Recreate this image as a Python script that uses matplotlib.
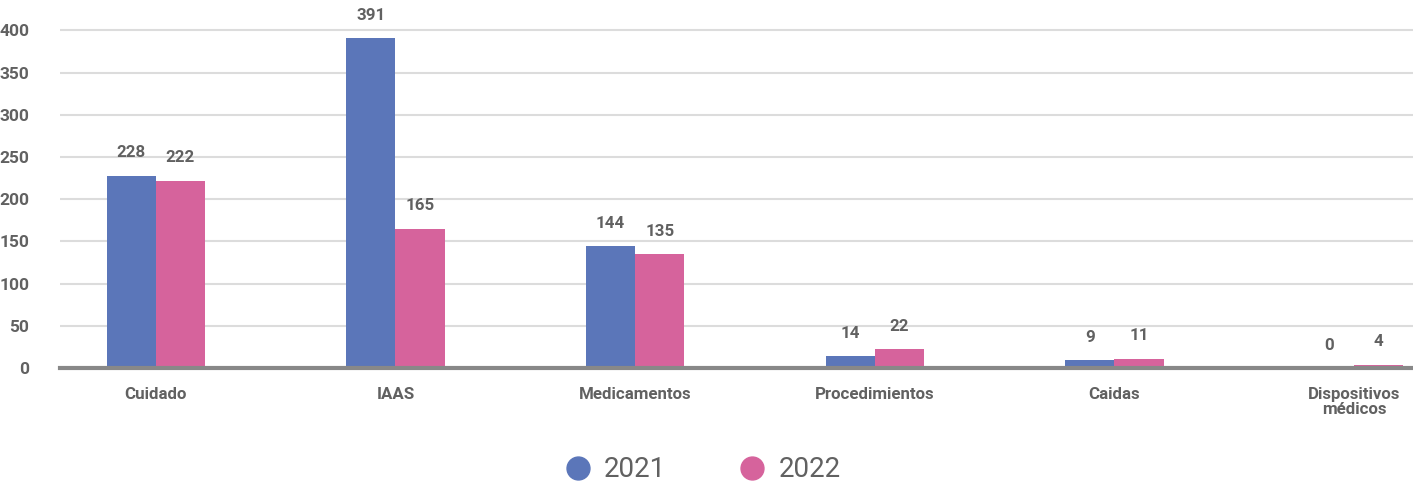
import matplotlib
matplotlib.use("Agg")
import matplotlib.pyplot as plt
from matplotlib.lines import Line2D
import numpy as np

categories = ["Cuidado", "IAAS", "Medicamentos", "Procedimientos", "Caidas", "Dispositivos\nmédicos"]
series_names = ["2021", "2022"]
values_2021 = [228, 391, 144, 14, 9, 0]
values_2022 = [222, 165, 135, 22, 11, 4]
y_ticks = [0, 50, 100, 150, 200, 250, 300, 350, 400]

colors = ["#5B76B9", "#D6639C"]
text_color = "#616161"
weight = "bold"
plt.rcParams["font.family"] = ["Roboto", "DejaVu Sans"]

fig = plt.figure(figsize=(14.13, 4.87), dpi=100)
ax = fig.add_axes([60 / 1413, (487 - 368) / 487, 1 - 60 / 1413, (368 - 5) / 487])

x = np.arange(len(categories))
w = 0.205
series = [values_2021, values_2022]
for k, (vals, col) in enumerate(zip(series, colors)):
    pos = x + (k - 0.5) * w
    ax.bar(pos, vals, width=w, color=col, zorder=2)
    for px, v in zip(pos, vals):
        ax.annotate(str(v), (px, v), xytext=(0, 11), textcoords="offset points",
                    ha="center", va="bottom", fontsize=12.2, fontweight=weight,
                    color=text_color)

ax.set_xlim(-0.4, 5.246)
ax.set_ylim(0, 430)
ax.set_yticks(y_ticks)
ax.set_yticklabels([str(t) for t in y_ticks], fontsize=12.5, fontweight=weight, color=text_color)
ax.set_xticks(x)
ax.set_xticklabels(categories, fontsize=12.2, fontweight=weight, color=text_color,
                   linespacing=0.95)
ax.tick_params(axis="y", length=0, pad=22)
ax.tick_params(axis="x", length=0, pad=14)
for s in ax.spines.values():
    s.set_visible(False)
ax.grid(axis="y", color="#dcdcdc", linewidth=1.5, zorder=0)
ax.set_axisbelow(True)
ax.axhline(0, color="#888888", linewidth=3, zorder=3, clip_on=False)

handles = [Line2D([], [], marker="o", linestyle="none", markersize=16.5,
                  markerfacecolor=c, markeredgecolor=c) for c in colors]
fig.legend(handles, series_names, loc="center", bbox_to_anchor=(0.497, 0.035),
           ncol=2, frameon=False, prop={"size": 20},
           labelcolor=text_color, columnspacing=2.6, handlelength=1.0,
           handletextpad=0.45)

fig.savefig("out.png", dpi=100, facecolor="white")
